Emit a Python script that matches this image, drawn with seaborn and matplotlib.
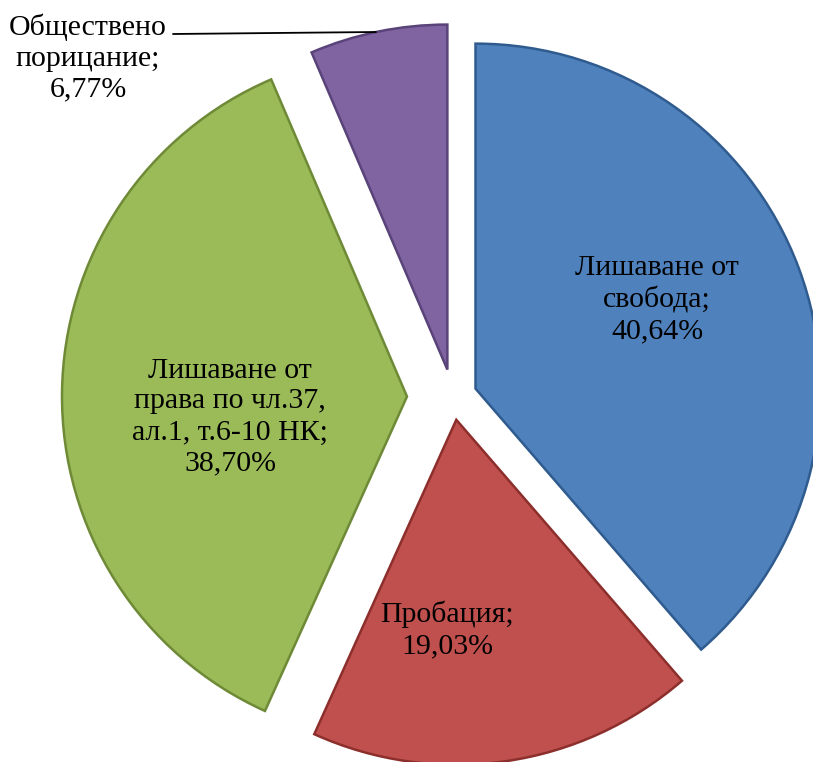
import matplotlib
matplotlib.use("Agg")
import matplotlib.pyplot as plt
import seaborn as sns

# data (labels show the shares as printed)
categories = ["Лишаване от\nсвобода", "Пробация",
              "Лишаване от\nправа по чл.37,\nал.1, т.6-10 НК",
              "Обществено\nпорицание"]
shares = [40.64, 19.03, 38.70, 6.77]
share_text = ["40,64%", "19,03%", "38,70%", "6,77%"]

colors = ["#4F81BD", "#C0504D", "#9BBB59", "#8064A2"]
edges = ["#2F5B8E", "#8C2F2C", "#6E8A37", "#5A4379"]
# slice offsets, in pixels (pie explode is in data units)
explode = [24, 23, 46, 28]

# label positions in pixel space (x, y from top)
label_pos = [(657, 300), (447, 630), (230, 417), (88, 58)]

sns.set_theme(style="white")
plt.rcParams["font.family"] = ["Liberation Serif", "DejaVu Serif"]

W, H = 813, 762
fig = plt.figure(figsize=(W / 100, H / 100), dpi=100)
ax = fig.add_axes([0, 0, 1, 1])

wedges, _ = ax.pie(shares, colors=colors, explode=explode, startangle=90,
                   counterclock=False, center=(453, H - 397), radius=345,
                   wedgeprops=dict(linewidth=1.8))
for w, ec in zip(wedges, edges):
    w.set_edgecolor(ec)

for cat, txt, (x, y) in zip(categories, share_text, label_pos):
    ax.text(x, H - y, f"{cat};\n{txt}", ha="center", va="center",
            fontsize=21.5, color="black", linespacing=1.25)

# leader line for the small slice
ax.plot([173, 376], [H - 34, H - 32], color="black", lw=1.3)

ax.set_xlim(0, W)
ax.set_ylim(0, H)
ax.set_aspect("auto")
ax.axis("off")

fig.savefig("out.png", dpi=100, facecolor="white")
